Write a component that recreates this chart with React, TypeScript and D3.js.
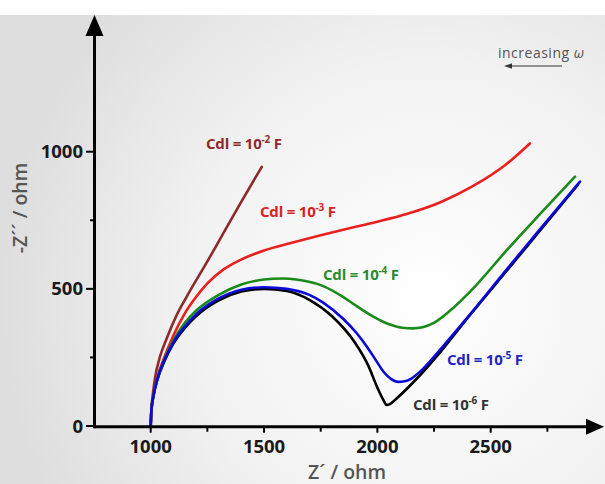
import React from "react";
import * as d3 from "d3";

type P = [number, number];

const cdl2: P[] = [[1000,0],[1003,60],[1010,120],[1020,180],[1040,250],[1071,320],[1115,405],[1159,472],[1250,600],[1320,702],[1400,818],[1490,945]];
const cdl3: P[] = [[1000,0],[1003,55],[1012,110],[1030,178],[1060,250],[1100,330],[1150,410],[1200,470],[1250,520],[1320,570],[1394,605],[1500,640],[1614,666],[1750,695],[1909,727],[2000,745],[2129,773],[2276,815],[2423,875],[2570,955],[2673,1030]];
const cdl4: P[] = [[1000,0],[1003,55],[1012,109],[1030,173],[1060,243],[1100,312],[1150,375],[1200,420],[1300,478],[1400,516],[1500,534],[1580,538],[1650,533],[1761,510],[1850,470],[1909,437],[1980,400],[2056,370],[2110,358],[2158,356],[2200,360],[2247,375],[2320,420],[2423,502],[2570,640],[2717,772],[2872,909]];
const cdl5: P[] = [[1000,0],[1003,55],[1012,109],[1030,172],[1060,240],[1100,305],[1150,362],[1200,407],[1300,465],[1400,497],[1500,506],[1600,500],[1700,478],[1761,450],[1850,390],[1909,338],[1960,282],[1997,235],[2030,195],[2060,172],[2092,161],[2120,163],[2150,173],[2188,198],[2240,243],[2284,285],[2408,406],[2570,570],[2717,717],[2894,891]];
const cdl6: P[] = [[1000,0],[1003,55],[1012,109],[1030,170],[1060,235],[1100,300],[1150,357],[1200,400],[1300,458],[1400,490],[1500,500],[1600,492],[1700,460],[1800,400],[1900,305],[1960,220],[2000,140],[2025,97],[2041,77],[2055,80],[2080,97],[2188,185],[2284,276],[2408,404],[2570,565],[2717,712],[2885,880]];

const xTicks = [1000, 1500, 2000, 2500];
const xMinor = [1250, 1750, 2250, 2750];
const yTicks = [0, 500, 1000];
const yMinor = [250, 750];

const series = [
  { data: cdl6, color: "#000000" },
  { data: cdl3, color: "#e8201f" },
  { data: cdl2, color: "#8e2a2a" },
  { data: cdl4, color: "#1a8a1a" },
  { data: cdl5, color: "#0a0ad8" },
];

const labels = [
  { exp: "-2", x: 206, y: 149, color: "#8e2a2a" },
  { exp: "-3", x: 260, y: 217, color: "#d62222" },
  { exp: "-4", x: 323, y: 280, color: "#2b8a2b" },
  { exp: "-5", x: 447, y: 365, color: "#2424c0" },
  { exp: "-6", x: 413, y: 410, color: "#333333" },
];

export default function App() {
  const x = d3.scaleLinear().domain([1000, 2500]).range([150.7, 490.7]);
  const y = d3.scaleLinear().domain([0, 1000]).range([426, 151.7]);
  const line = d3
    .line<P>()
    .x((d) => x(d[0]))
    .y((d) => y(d[1]))
    .curve(d3.curveMonotoneX);
  const axisY = y(0) + 0.7;
  const axisX = 94.5;
  const font = "'Open Sans', sans-serif";
  return (
    <svg width={605} height={484} style={{ position: "absolute", left: 0, top: 0, fontFamily: font }}>
      <defs>
        <radialGradient id="bg" cx="430" cy="300" r="430" gradientUnits="userSpaceOnUse">
          <stop offset="0" stopColor="#ffffff" />
          <stop offset="0.55" stopColor="#f2f2f2" />
          <stop offset="1" stopColor="#dedede" />
        </radialGradient>
      </defs>
      <rect x={0} y={0} width={605} height={484} fill="#ffffff" />
      <rect x={0} y={15} width={605} height={469} fill="url(#bg)" />
      {series.map((s, i) => (
        <path key={i} d={line(s.data) || ""} fill="none" stroke={s.color} strokeWidth={2.6} strokeLinecap="round" strokeLinejoin="round" />
      ))}
      {/* axes */}
      <line x1={axisX} y1={axisY} x2={590} y2={axisY} stroke="#000" strokeWidth={3} />
      <path d={`M604,${axisY} L586,${axisY - 8} L586,${axisY + 8} Z`} fill="#000" />
      <line x1={axisX} y1={axisY + 1.5} x2={axisX} y2={32} stroke="#000" strokeWidth={3} />
      <path d={`M${axisX},15 L${axisX - 9},36 L${axisX + 9},36 Z`} fill="#000" />
      {xTicks.map((t) => (
        <g key={t}>
          <line x1={x(t)} x2={x(t)} y1={axisY} y2={axisY + 6} stroke="#000" strokeWidth={2} />
          <text x={x(t)} y={453} textAnchor="middle" fontSize={18.5} fontWeight={700} fill="#1a1a1a">{t}</text>
        </g>
      ))}
      {xMinor.map((t) => (
        <line key={t} x1={x(t)} x2={x(t)} y1={axisY} y2={axisY + 5} stroke="#000" strokeWidth={2} />
      ))}
      {yTicks.map((t) => (
        <g key={t}>
          <line x1={86} x2={axisX} y1={y(t)} y2={y(t)} stroke="#000" strokeWidth={2} />
          <text x={83} y={y(t) + 6.5} textAnchor="end" fontSize={18.5} fontWeight={700} fill="#1a1a1a">{t}</text>
        </g>
      ))}
      {yMinor.map((t) => (
        <line key={t} x1={90} x2={axisX} y1={y(t)} y2={y(t)} stroke="#000" strokeWidth={2} />
      ))}
      <text x={347} y={479} textAnchor="middle" fontSize={19.5} fontWeight={600} fill="#555">Z´ / ohm</text>
      <text transform="translate(27,208) rotate(-90)" textAnchor="middle" fontSize={19.5} fontWeight={600} fill="#555">-Z´´ / ohm</text>
      {labels.map((l) => (
        <text key={l.exp} x={l.x} y={l.y} fontSize={15} fontWeight={700} fill={l.color} letterSpacing={-0.2}>
          Cdl = 10<tspan dy={-6} fontSize={10}>{l.exp}</tspan><tspan dy={6}> F</tspan>
        </text>
      ))}
      <text x={498} y={58} fontSize={14} letterSpacing={0.5} fill="#555">increasing <tspan fontStyle="italic">ω</tspan></text>
      <line x1={509} x2={562} y1={66} y2={66} stroke="#333" strokeWidth={1.2} />
      <path d="M504,66 L512,63.3 L512,68.7 Z" fill="#333" />
    </svg>
  );
}
